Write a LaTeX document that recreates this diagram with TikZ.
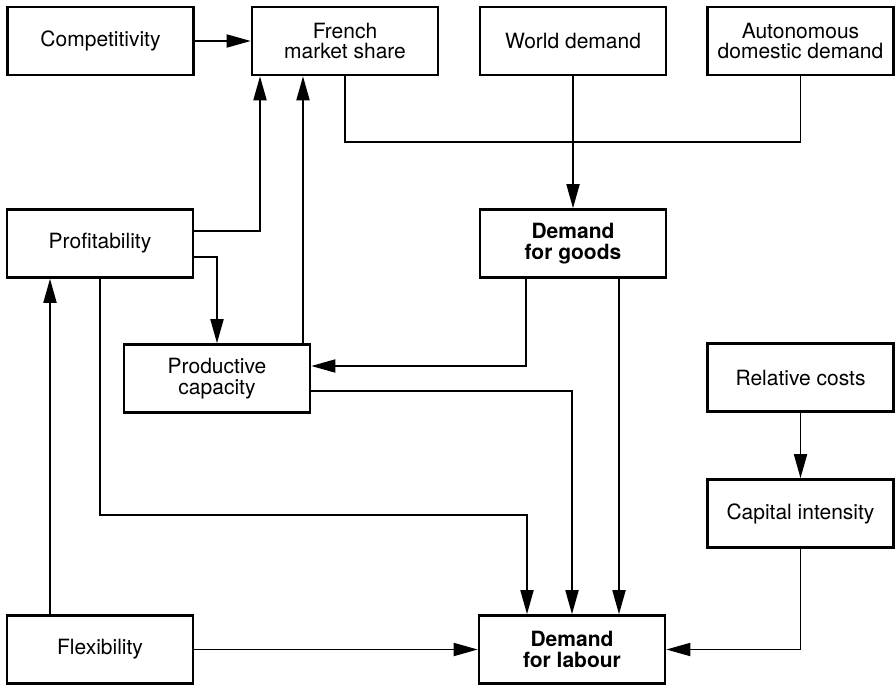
\documentclass[tikz,border=0pt]{standalone}
\usepackage{fontspec}
\setmainfont{TeX Gyre Heros}
\usetikzlibrary{arrows.meta}
\begin{document}
\begin{tikzpicture}[x=1pt,y=-1pt,
  box/.style={draw,line width=2.6pt,minimum width=186pt,minimum height=68pt,
    align=center,inner sep=0pt,font=\fontsize{21}{20.5}\selectfont},
  boldbox/.style={box,font=\fontsize{21}{20.5}\selectfont\bfseries},
  conn/.style={line width=1.8pt},
  arr/.style={conn,-{Triangle[length=24pt,width=13pt]}}]
\useasboundingbox (0,0) rectangle (896,685);
\node[box] (comp) at (100.5,41) {Competitivity};
\node[box] (french) at (345,41) {French\\market share};
\node[box] (world) at (573,41) {World demand};
\node[box] (auto) at (800.5,41) {Autonomous\\domestic demand};
\node[box] (profit) at (100,243.5) {Profitability};
\node[boldbox] (goods) at (573,243.5) {Demand\\for goods};
\node[box] (prodcap) at (217,378.5) {Productive\\capacity};
\node[box] (relcost) at (800.5,377.5) {Relative costs};
\node[box] (capint) at (800.5,513.5) {Capital intensity};
\node[box] (flex) at (100,649.5) {Flexibility};
\node[boldbox] (labour) at (572,649.5) {Demand\\for labour};
\coordinate (j) at (573,142);
\coordinate (bend) at (100,515);
% top
\draw[arr] (comp) -- (french);
\draw[conn] (french.south) |- (j) -| (auto.south);
\draw[arr] (world) -- (goods);
% profitability
\draw[arr] ([yshift=12.5pt]profit.east) -| ([xshift=-85pt]french.south);
\draw[arr] ([yshift=-13.5pt]profit.east) -| (prodcap.north);
\draw[arr] ([xshift=86pt]prodcap.north) -- ([xshift=86pt]prodcap.north |- french.south);
% demand for goods
\draw[arr] ([xshift=-47pt]goods.south) |- ([yshift=12.5pt]prodcap.east);
\draw[arr] ([xshift=46pt]goods.south) -- ([xshift=46pt]goods.south |- labour.north);
\draw[arr] ([yshift=-12.5pt]prodcap.east) -| (labour.north);
\draw[arr] (profit.south) -- (bend) -| ([xshift=-45pt]labour.north);
% flexibility
\draw[arr] ([xshift=-50pt]flex.north) -- ([xshift=-50pt]flex.north |- profit.south);
\draw[arr] (flex) -- (labour);
% costs
\draw[arr] (relcost) -- (capint);
\draw[arr] (capint.south) |- (labour.east);
\end{tikzpicture}
\end{document}
